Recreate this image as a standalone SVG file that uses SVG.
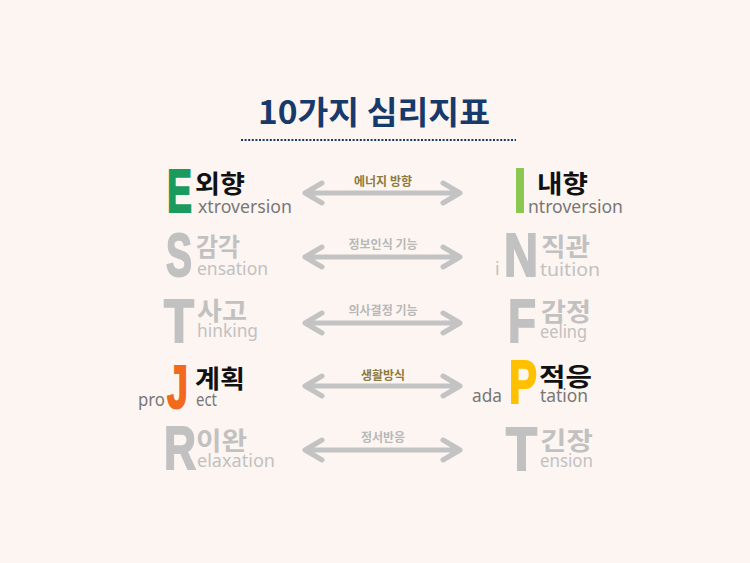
<svg xmlns="http://www.w3.org/2000/svg" width="750" height="563" viewBox="0 0 750 563">
<defs>
<style>
.big{font-family:"Liberation Sans","Noto Sans",sans-serif;font-weight:bold;font-size:61px;stroke-width:2;stroke-linejoin:miter}
.ko{font-family:"Noto Sans CJK KR",sans-serif;font-weight:bold;font-size:25px}
.en{font-family:"Noto Sans","Open Sans",sans-serif;font-size:18px}
.lbl{font-family:"Noto Sans CJK KR",sans-serif;font-weight:bold;font-size:12px;text-anchor:middle}
.arr{stroke:#c3c3c3;stroke-width:5;fill:none;stroke-linecap:round;stroke-linejoin:round}
.gray{fill:#c1c1c1}
.big.gray{stroke:#c1c1c1}
.dk{fill:#111}
.mid{fill:#777}
</style>
</defs>
<rect width="750" height="563" fill="#fdf5f1"/>
<g id="title">
<text x="258" y="124" textLength="232" lengthAdjust="spacingAndGlyphs" font-family="Noto Sans CJK KR,sans-serif" font-weight="bold" font-size="32" fill="#173a6a">10가지 심리지표</text>
<line x1="241" y1="140" x2="516" y2="140" stroke="#173a6a" stroke-width="2.2" stroke-dasharray="2 1.6"/>
</g>
<g id="connectors">
<path class="arr" d="M305,193 H460 M322,183 L305,193 L322,203 M443,183 L460,193 L443,203"/>
<text class="lbl" x="383" y="186" fill="#8c7b3e">에너지 방향</text>
<path class="arr" d="M305,257 H460 M322,247 L305,257 L322,267 M443,247 L460,257 L443,267"/>
<text class="lbl" x="383" y="249" fill="#b8b8b8">정보인식 기능</text>
<path class="arr" d="M305,323 H460 M322,313 L305,323 L322,333 M443,313 L460,323 L443,333"/>
<text class="lbl" x="383" y="315" fill="#b8b8b8">의사결정 기능</text>
<path class="arr" d="M305,386 H460 M322,376 L305,386 L322,396 M443,376 L460,386 L443,396"/>
<text class="lbl" x="383" y="380" fill="#8c7b3e">생활방식</text>
<path class="arr" d="M305,450 H460 M322,440 L305,450 L322,460 M443,440 L460,450 L443,460"/>
<text class="lbl" x="383" y="442" fill="#b8b8b8">정서반응</text>
</g>
<g id="E">
<text class="big" x="167" y="212" textLength="25" lengthAdjust="spacingAndGlyphs" fill="#1a9a5c" stroke="#1a9a5c">E</text>
<text class="ko dk" x="195" y="193" textLength="50" lengthAdjust="spacingAndGlyphs">외향</text>
<text class="en mid" x="198" y="213" textLength="94" lengthAdjust="spacingAndGlyphs">xtroversion</text>
</g>
<g id="I">
<rect x="516" y="168" width="8" height="45" fill="#8bc751"/>
<text class="ko dk" x="537" y="193" textLength="51" lengthAdjust="spacingAndGlyphs">내향</text>
<text class="en mid" x="528" y="213" textLength="95" lengthAdjust="spacingAndGlyphs">ntroversion</text>
</g>
<g id="S">
<text class="big gray" x="166" y="276" textLength="26" lengthAdjust="spacingAndGlyphs">S</text>
<text class="ko gray" x="196" y="256" textLength="44" lengthAdjust="spacingAndGlyphs">감각</text>
<text class="en gray" x="197" y="275" textLength="71" lengthAdjust="spacingAndGlyphs">ensation</text>
</g>
<g id="N">
<text class="en gray" x="495" y="275">i</text>
<text class="big gray" x="504" y="276" textLength="34" lengthAdjust="spacingAndGlyphs">N</text>
<text class="ko gray" x="541" y="256" textLength="49" lengthAdjust="spacingAndGlyphs">직관</text>
<text class="en gray" x="540" y="276" textLength="60" lengthAdjust="spacingAndGlyphs">tuition</text>
</g>
<g id="T1">
<text class="big gray" x="164" y="342" textLength="30" lengthAdjust="spacingAndGlyphs">T</text>
<text class="ko gray" x="197" y="320" textLength="50" lengthAdjust="spacingAndGlyphs">사고</text>
<text class="en gray" x="197" y="337" textLength="61" lengthAdjust="spacingAndGlyphs">hinking</text>
</g>
<g id="F">
<text class="big gray" x="508" y="342" textLength="28" lengthAdjust="spacingAndGlyphs">F</text>
<text class="ko gray" x="541" y="321" textLength="50" lengthAdjust="spacingAndGlyphs">감정</text>
<text class="en gray" x="540" y="338" textLength="47" lengthAdjust="spacingAndGlyphs">eeling</text>
</g>
<g id="J">
<text class="en mid" x="138" y="406" textLength="27" lengthAdjust="spacingAndGlyphs">pro</text>
<text class="big" x="167" y="408" textLength="21" lengthAdjust="spacingAndGlyphs" fill="#f26a1b" stroke="#f26a1b">J</text>
<text class="ko dk" x="195" y="388" textLength="50" lengthAdjust="spacingAndGlyphs">계획</text>
<text class="en mid" x="196" y="406" textLength="21" lengthAdjust="spacingAndGlyphs">ect</text>
</g>
<g id="P">
<text class="en mid" x="472" y="402" textLength="30" lengthAdjust="spacingAndGlyphs">ada</text>
<text class="big" x="509" y="403" textLength="28" lengthAdjust="spacingAndGlyphs" fill="#ffc000" stroke="#ffc000">P</text>
<text class="ko dk" x="539" y="386" textLength="53" lengthAdjust="spacingAndGlyphs">적응</text>
<text class="en mid" x="540" y="402" textLength="48" lengthAdjust="spacingAndGlyphs">tation</text>
</g>
<g id="R">
<text class="big gray" x="164" y="469" textLength="32" lengthAdjust="spacingAndGlyphs">R</text>
<text class="ko gray" x="196" y="450" textLength="51" lengthAdjust="spacingAndGlyphs">이완</text>
<text class="en gray" x="197" y="467" textLength="78" lengthAdjust="spacingAndGlyphs">elaxation</text>
</g>
<g id="T2">
<text class="big gray" x="506" y="470" textLength="31" lengthAdjust="spacingAndGlyphs">T</text>
<text class="ko gray" x="540" y="450" textLength="53" lengthAdjust="spacingAndGlyphs">긴장</text>
<text class="en gray" x="540" y="467" textLength="53" lengthAdjust="spacingAndGlyphs">ension</text>
</g>
</svg>
